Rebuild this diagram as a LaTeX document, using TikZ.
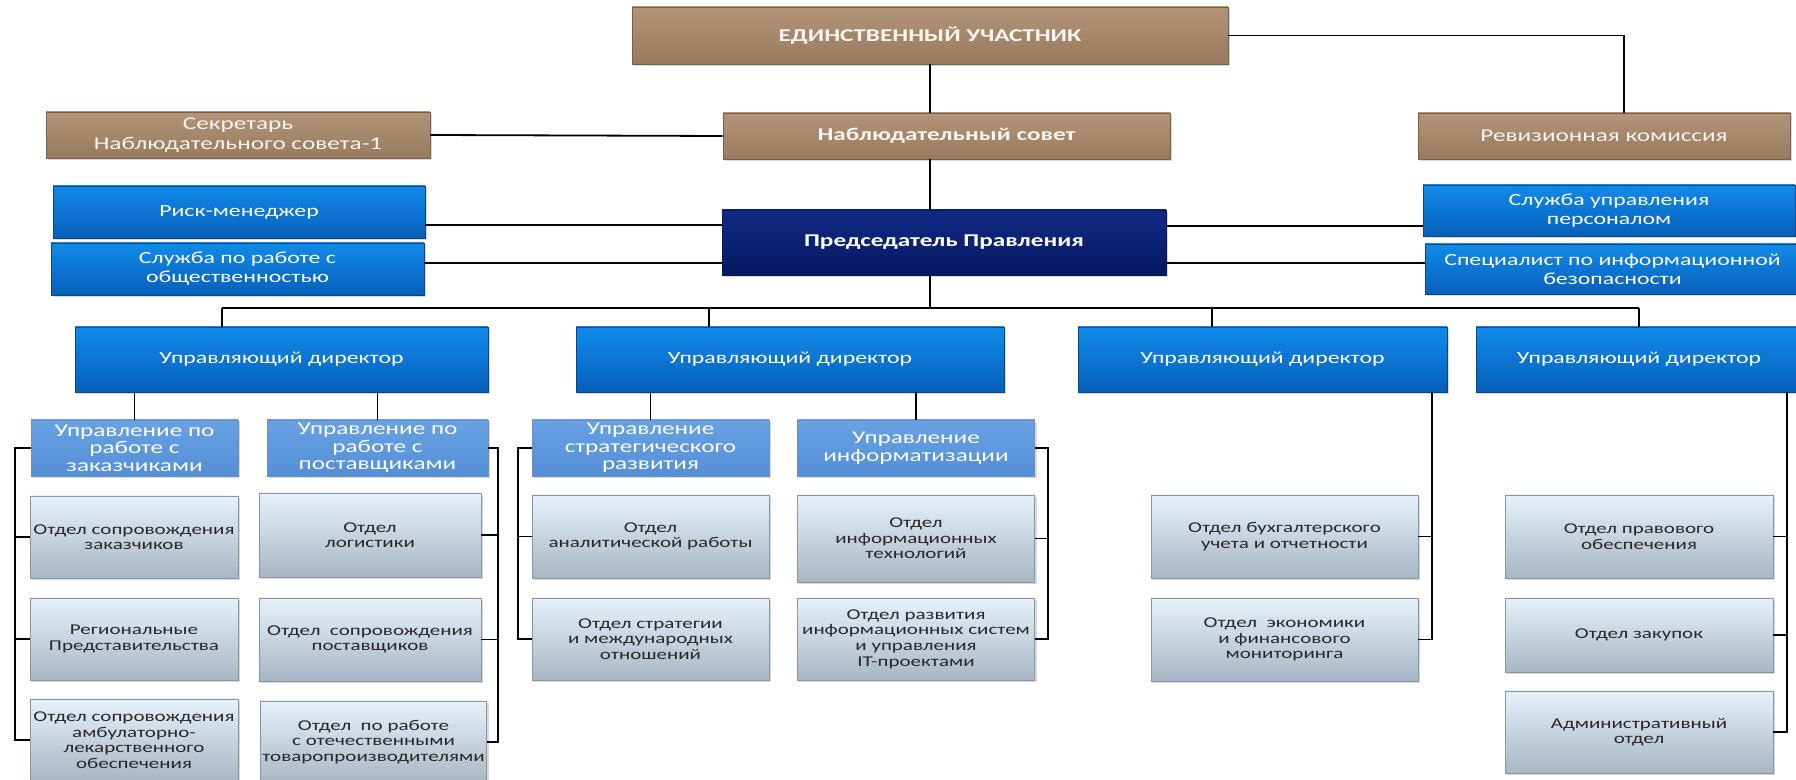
\documentclass[tikz,border=0pt]{standalone}
\usepackage{fontspec}
\setmainfont{Carlito}[FakeStretch=1.4]
\usetikzlibrary{shadows}

\definecolor{browntop}{RGB}{178,148,120}
\definecolor{brownbot}{RGB}{152,122,95}
\definecolor{brownedge}{RGB}{120,95,72}
\definecolor{bluetop}{RGB}{18,138,234}
\definecolor{bluebot}{RGB}{6,96,186}
\definecolor{blueedge}{RGB}{5,70,140}
\definecolor{navytop}{RGB}{16,42,132}
\definecolor{navybot}{RGB}{6,24,98}
\definecolor{unittop}{RGB}{104,162,228}
\definecolor{unitbot}{RGB}{84,142,214}
\definecolor{depttop}{RGB}{230,241,250}
\definecolor{deptbot}{RGB}{168,182,196}
\definecolor{deptedge}{RGB}{135,150,165}
\definecolor{depttext}{RGB}{40,40,40}

\begin{document}
\begin{tikzpicture}[x=0.5pt,y=-0.5pt,
  box/.style={rectangle,inner sep=1pt,align=center,line width=0.4pt,
    drop shadow={opacity=0.3,shadow xshift=1pt,shadow yshift=-1.2pt}},
  brownbox/.style={box,draw=brownedge,top color=browntop,bottom color=brownbot,
    text=white!92!brown,font=\fontsize{9}{10}\selectfont},
  bluebox/.style={box,draw=blueedge,top color=bluetop,bottom color=bluebot,
    text=white,font=\fontsize{8.5}{9.5}\selectfont},
  navybox/.style={box,draw=navybot,top color=navytop,bottom color=navybot,
    text=white,font=\fontsize{9}{10}\selectfont\bfseries},
  unitbox/.style={box,draw=blueedge!60,top color=unittop,bottom color=unitbot,
    text=white,font=\fontsize{9}{8.8}\selectfont,minimum height=28pt},
  deptbox/.style={box,draw=deptedge,top color=depttop,bottom color=deptbot,
    text=depttext,font=\fontsize{7.5}{7.8}\selectfont},
  link/.style={line width=0.9pt}]
\useasboundingbox (0,0) rectangle (1796,780);

% top level
\node[brownbox,font=\fontsize{9}{10}\selectfont\bfseries,minimum width=298pt,minimum height=28.5pt] (eu) at (930,35.5) {ЕДИНСТВЕННЫЙ УЧАСТНИК};
\node[brownbox,font=\fontsize{9}{10}\selectfont\bfseries,minimum width=223.5pt,minimum height=23pt] (sovet) at (946.5,136) {Наблюдательный совет};
\node[brownbox,minimum width=192pt,minimum height=23pt] (sekr) at (238,135) {Секретарь\\Наблюдательного совета-1};
\node[brownbox,minimum width=186pt,minimum height=23pt] (revk) at (1604,136) {Ревизионная комиссия};

\node[navybox,minimum width=222pt,minimum height=32.5pt] (pred) at (944,242.5) {Председатель Правления};
\node[bluebox,minimum width=186pt,minimum height=26pt] (risk) at (239,212) {Риск-менеджер};
\node[bluebox,minimum width=186.5pt,minimum height=26pt] (pr) at (237.5,269) {Служба по работе с\\общественностью};
\node[bluebox,minimum width=186pt,minimum height=25.5pt] (kadry) at (1609,210.5) {Служба управления\\персоналом};
\node[bluebox,minimum width=187.5pt,minimum height=25pt] (ib) at (1612.5,269) {Специалист по информационной\\безопасности};

% managing directors
\node[bluebox,minimum width=206.5pt,minimum height=32.5pt] (ud1) at (281.5,359.5) {Управляющий директор};
\node[bluebox,minimum width=214pt,minimum height=32.5pt] (ud2) at (790,359.5) {Управляющий директор};
\node[bluebox,minimum width=184.5pt,minimum height=32.5pt] (ud3) at (1262.5,359.5) {Управляющий директор};
\node[bluebox,minimum width=163pt,minimum height=32.5pt] (ud4) at (1639,359.5) {Управляющий директор};

% departments
\node[unitbox,minimum width=103.5pt] (u1) at (134.5,448) {Управление по\\работе с\\заказчиками};
\node[unitbox,minimum width=110.5pt] (u2) at (377.5,448) {Управление по\\работе с\\поставщиками};
\node[unitbox,minimum width=118.5pt] (u3) at (650.5,448) {Управление\\стратегического\\развития};
\node[unitbox,minimum width=118.75pt] (u4) at (916,448) {Управление\\информатизации};

\node[deptbox,minimum width=104pt,minimum height=41pt] (a1) at (134,537) {Отдел сопровождения\\заказчиков};
\node[deptbox,minimum width=104pt,minimum height=41pt] (a2) at (134,639) {Региональные\\Представительства};
\node[deptbox,minimum width=104pt,minimum height=41pt] (a3) at (134,740) {Отдел сопровождения\\амбулаторно-\\лекарственного\\обеспечения};

\node[deptbox,minimum width=111pt,minimum height=42pt] (b1) at (370,535) {Отдел\\логистики};
\node[deptbox,minimum width=111pt,minimum height=41.5pt] (b2) at (370,639.5) {Отдел \ сопровождения\\поставщиков};
\node[deptbox,minimum width=111.5pt,minimum height=41pt] (b3) at (373.5,742) {Отдел \ по работе\\с отечественными\\товаропроизводителями};

\node[deptbox,minimum width=118.5pt,minimum height=41.5pt] (c1) at (650.5,536.5) {Отдел\\аналитической работы};
\node[deptbox,minimum width=118.5pt,minimum height=41pt] (c2) at (650.5,639) {Отдел стратегии\\и международных\\отношений};

\node[deptbox,minimum width=118.75pt,minimum height=43.5pt] (e1) at (916,538.5) {Отдел\\информационных\\технологий};
\node[deptbox,minimum width=118.75pt,minimum height=41pt] (e2) at (916,639) {Отдел развития\\информационных систем\\и управления\\IT-проектами};

\node[deptbox,minimum width=133.5pt,minimum height=41.5pt] (f1) at (1284.5,536.5) {Отдел бухгалтерского\\учета и отчетности};
\node[deptbox,minimum width=133.5pt,minimum height=41.5pt] (f2) at (1284.5,639.5) {Отдел \ экономики\\и финансового\\мониторинга};

\node[deptbox,minimum width=134pt,minimum height=41.5pt] (g1) at (1639,536.5) {Отдел правового\\обеспечения};
\node[deptbox,minimum width=134pt,minimum height=37pt] (g2) at (1639,635) {Отдел закупок};
\node[deptbox,minimum width=134pt,minimum height=41pt] (g3) at (1639,732) {Административный\\отдел};

% connectors, upper part
\draw[link] (eu.south) -- (eu.south |- sovet.north);
\draw[link] (eu.south |- sovet.south) -- (eu.south |- pred.north);
\draw[link] (sekr.east) -- (sovet.west);
\draw[link] (eu.east) -| ([xshift=10pt]revk.north);
\draw[link] ([yshift=-6.5pt]risk.east) -- ([yshift=-6.5pt]risk.east -| pred.west);
\draw[link] ([yshift=3pt]pr.east) -- ([yshift=3pt]pr.east -| pred.west);
\draw[link] ([yshift=-7.75pt]kadry.west -| pred.east) -- ([yshift=-7.75pt]kadry.west);
\draw[link] ([yshift=3pt]ib.west -| pred.east) -- ([yshift=3pt]ib.west);

% bus to the directors
\coordinate (d1) at (222,308);
\coordinate (d2) at (709,308);
\coordinate (d3) at (1212,308);
\coordinate (d4) at (1639,308);
\draw[link] (eu.south |- pred.south) -- (eu.south |- d1);
\draw[link] (d1) -- (d4);
\foreach \i in {1,...,4}
  \draw[link] (d\i) -- (d\i |- ud\i.north);

\draw[link] (ud1.south -| u1.north) -- (u1.north);
\draw[link] (ud1.south -| u2.north) -- (u2.north);
\draw[link] (ud2.south -| u3.north) -- (u3.north);
\draw[link] (ud2.south -| u4.north) -- (u4.north);

% brackets
\coordinate (k1) at (15,0);
\coordinate (k2) at (498,0);
\coordinate (k3) at (518,0);
\coordinate (k4) at (1048,0);
\coordinate (k5) at (1432,0);
\coordinate (k6) at (1787,0);

\draw[link] (u1.west) -| (a3.west -| k1) -- (a3.west);
\foreach \n in {a1,a2}
  \draw[link] (\n.west) -- (\n.west -| k1);
\draw[link] (u2.east) -| (b3.east -| k2) -- (b3.east);
\foreach \n in {b1,b2}
  \draw[link] (\n.east) -- (\n.east -| k2);
\draw[link] (u3.west) -| (c2.west -| k3) -- (c2.west);
\draw[link] (c1.west) -- (c1.west -| k3);
\draw[link] (u4.east) -| (e2.east -| k4) -- (e2.east);
\draw[link] (e1.east) -- (e1.east -| k4);
\draw[link] (ud3.south -| k5) |- (f2.east);
\draw[link] (f1.east) -- (f1.east -| k5);
\draw[link] (ud4.south -| k6) |- (g3.east);
\foreach \n in {g1,g2}
  \draw[link] (\n.east) -- (\n.east -| k6);
\end{tikzpicture}
\end{document}
